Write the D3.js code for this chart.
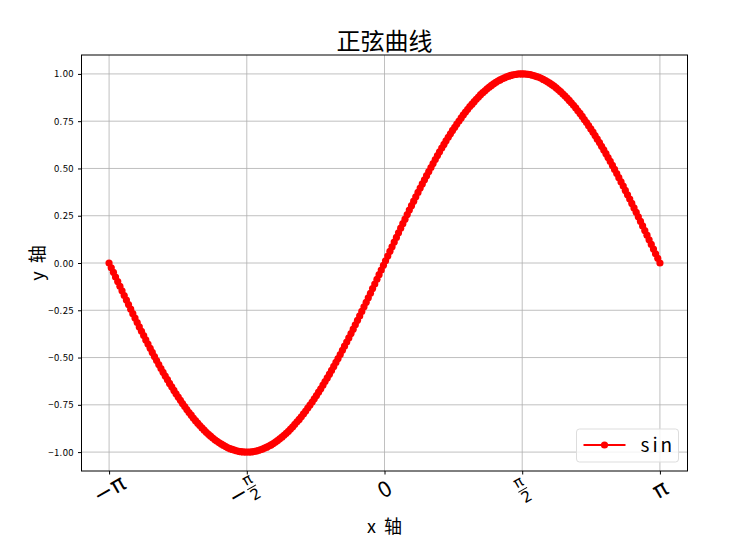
<!DOCTYPE html>
<html>
<head>
<meta charset="UTF-8">
<title>正弦曲线</title>
<script src="https://d3js.org/d3.v7.min.js"></script>
<style>
    body { margin: 0; background: #fff; }
    svg { display: block; }
    .cjk { font-family: "Noto Sans CJK SC", sans-serif; }
    .grid line { stroke: #b0b0b0; stroke-width: 0.8; }
</style>
</head>
<body>
<div id="chart"></div>
<script>
const xValues = [
    -3.142, -3.117, -3.092, -3.068, -3.043, -3.018, -2.994, -2.969, -2.944, -2.920,
    -2.895, -2.871, -2.846, -2.821, -2.797, -2.772, -2.747, -2.723, -2.698, -2.673,
    -2.649, -2.624, -2.600, -2.575, -2.550, -2.526, -2.501, -2.476, -2.452, -2.427,
    -2.402, -2.378, -2.353, -2.328, -2.304, -2.279, -2.255, -2.230, -2.205, -2.181,
    -2.156, -2.131, -2.107, -2.082, -2.057, -2.033, -2.008, -1.984, -1.959, -1.934,
    -1.910, -1.885, -1.860, -1.836, -1.811, -1.786, -1.762, -1.737, -1.712, -1.688,
    -1.663, -1.639, -1.614, -1.589, -1.565, -1.540, -1.515, -1.491, -1.466, -1.441,
    -1.417, -1.392, -1.368, -1.343, -1.318, -1.294, -1.269, -1.244, -1.220, -1.195,
    -1.170, -1.146, -1.121, -1.096, -1.072, -1.047, -1.023, -0.998, -0.973, -0.949,
    -0.924, -0.899, -0.875, -0.850, -0.825, -0.801, -0.776, -0.752, -0.727, -0.702,
    -0.678, -0.653, -0.628, -0.604, -0.579, -0.554, -0.530, -0.505, -0.480, -0.456,
    -0.431, -0.407, -0.382, -0.357, -0.333, -0.308, -0.283, -0.259, -0.234, -0.209,
    -0.185, -0.160, -0.136, -0.111, -0.086, -0.062, -0.037, -0.012,
    0.012, 0.037, 0.062, 0.086, 0.111, 0.136, 0.160, 0.185,
    0.209, 0.234, 0.259, 0.283, 0.308, 0.333, 0.357, 0.382, 0.407, 0.431,
    0.456, 0.480, 0.505, 0.530, 0.554, 0.579, 0.604, 0.628, 0.653, 0.678,
    0.702, 0.727, 0.752, 0.776, 0.801, 0.825, 0.850, 0.875, 0.899, 0.924,
    0.949, 0.973, 0.998, 1.023, 1.047, 1.072, 1.096, 1.121, 1.146, 1.170,
    1.195, 1.220, 1.244, 1.269, 1.294, 1.318, 1.343, 1.368, 1.392, 1.417,
    1.441, 1.466, 1.491, 1.515, 1.540, 1.565, 1.589, 1.614, 1.639, 1.663,
    1.688, 1.712, 1.737, 1.762, 1.786, 1.811, 1.836, 1.860, 1.885, 1.910,
    1.934, 1.959, 1.984, 2.008, 2.033, 2.057, 2.082, 2.107, 2.131, 2.156,
    2.181, 2.205, 2.230, 2.255, 2.279, 2.304, 2.328, 2.353, 2.378, 2.402,
    2.427, 2.452, 2.476, 2.501, 2.526, 2.550, 2.575, 2.600, 2.624, 2.649,
    2.673, 2.698, 2.723, 2.747, 2.772, 2.797, 2.821, 2.846, 2.871, 2.895,
    2.920, 2.944, 2.969, 2.994, 3.018, 3.043, 3.068, 3.092, 3.117, 3.142
];
const yValues = [
    0, -0.025, -0.049, -0.074, -0.098, -0.123, -0.147, -0.172, -0.196, -0.220,
    -0.244, -0.268, -0.291, -0.315, -0.338, -0.361, -0.384, -0.407, -0.429, -0.451,
    -0.473, -0.495, -0.516, -0.537, -0.558, -0.578, -0.598, -0.617, -0.637, -0.655,
    -0.674, -0.692, -0.709, -0.726, -0.743, -0.759, -0.775, -0.791, -0.805, -0.820,
    -0.834, -0.847, -0.860, -0.872, -0.884, -0.895, -0.906, -0.916, -0.926, -0.935,
    -0.943, -0.951, -0.958, -0.965, -0.971, -0.977, -0.982, -0.986, -0.990, -0.993,
    -0.996, -0.998, -0.999, -1.000, -1.000, -1.000, -0.999, -0.997, -0.995, -0.992,
    -0.988, -0.984, -0.979, -0.974, -0.968, -0.962, -0.955, -0.947, -0.939, -0.930,
    -0.921, -0.911, -0.901, -0.890, -0.878, -0.866, -0.853, -0.840, -0.827, -0.813,
    -0.798, -0.783, -0.767, -0.751, -0.735, -0.718, -0.701, -0.683, -0.665, -0.646,
    -0.627, -0.608, -0.588, -0.568, -0.547, -0.526, -0.505, -0.484, -0.462, -0.440,
    -0.418, -0.396, -0.373, -0.350, -0.327, -0.303, -0.280, -0.256, -0.232, -0.208,
    -0.184, -0.160, -0.135, -0.111, -0.086, -0.062, -0.037, -0.012,
    0.012, 0.037, 0.062, 0.086, 0.111, 0.135, 0.160, 0.184,
    0.208, 0.232, 0.256, 0.280, 0.303, 0.327, 0.350, 0.373, 0.396, 0.418,
    0.440, 0.462, 0.484, 0.505, 0.526, 0.547, 0.568, 0.588, 0.608, 0.627,
    0.646, 0.665, 0.683, 0.701, 0.718, 0.735, 0.751, 0.767, 0.783, 0.798,
    0.813, 0.827, 0.840, 0.853, 0.866, 0.878, 0.890, 0.901, 0.911, 0.921,
    0.930, 0.939, 0.947, 0.955, 0.962, 0.968, 0.974, 0.979, 0.984, 0.988,
    0.992, 0.995, 0.997, 0.999, 1.000, 1.000, 1.000, 0.999, 0.998, 0.996,
    0.993, 0.990, 0.986, 0.982, 0.977, 0.971, 0.965, 0.958, 0.951, 0.943,
    0.935, 0.926, 0.916, 0.906, 0.895, 0.884, 0.872, 0.860, 0.847, 0.834,
    0.820, 0.805, 0.791, 0.775, 0.759, 0.743, 0.726, 0.709, 0.692, 0.674,
    0.655, 0.637, 0.617, 0.598, 0.578, 0.558, 0.537, 0.516, 0.495, 0.473,
    0.451, 0.429, 0.407, 0.384, 0.361, 0.338, 0.315, 0.291, 0.268, 0.244,
    0.220, 0.196, 0.172, 0.147, 0.123, 0.098, 0.074, 0.049, 0.025, 0
];

const xTicks = [-Math.PI, -Math.PI / 2, 0, Math.PI / 2, Math.PI];
const xTickLabels = ["-π", "-π/2", "0", "π/2", "π"];
const yTicks = [-1, -0.75, -0.5, -0.25, 0, 0.25, 0.5, 0.75, 1];
const seriesName = "sin";
const titleText = "正弦曲线";
const xLabel = "x 轴";
const yLabel = "y 轴";

const width = 740, height = 539;
const margin = {top: 55, right: 52.5, bottom: 68, left: 81.5};

const svg = d3.select("#chart").append("svg")
    .attr("width", width)
    .attr("height", height);

// matplotlib style 5% padding around the data
const xExt = d3.extent(xValues), yExt = d3.extent(yValues);
const xPad = (xExt[1] - xExt[0]) * 0.05, yPad = (yExt[1] - yExt[0]) * 0.05;

const x = d3.scaleLinear()
    .domain([xExt[0] - xPad, xExt[1] + xPad])
    .range([margin.left, width - margin.right]);
const y = d3.scaleLinear()
    .domain([yExt[0] - yPad, yExt[1] + yPad])
    .range([height - margin.bottom, margin.top]);

const plotBottom = height - margin.bottom;

// grid
const grid = svg.append("g").attr("class", "grid");
grid.selectAll("line.gx").data(xTicks).join("line")
    .attr("x1", d => x(d)).attr("x2", d => x(d))
    .attr("y1", margin.top).attr("y2", plotBottom);
grid.selectAll("line.gy").data(yTicks).join("line")
    .attr("class", "gy")
    .attr("x1", margin.left).attr("x2", width - margin.right)
    .attr("y1", d => y(d)).attr("y2", d => y(d));

// y axis
const yAxis = svg.append("g")
    .attr("transform", `translate(${margin.left},0)`)
    .call(d3.axisLeft(y).tickValues(yTicks).tickFormat(d3.format(".2f")).tickSize(3.5).tickPadding(4));
yAxis.select(".domain").remove();
yAxis.selectAll("text")
    .attr("class", "cjk")
    .style("font-size", "9.5px")
    .style("letter-spacing", "0.4px")
    .attr("fill", "#000")
    .text(d => d3.format(".2f")(d).replace("-", "−"));

// x axis ticks
const xAxis = svg.append("g")
    .attr("transform", `translate(0,${plotBottom})`)
    .call(d3.axisBottom(x).tickValues(xTicks).tickFormat("").tickSize(3.5));
xAxis.select(".domain").remove();

// x tick labels, rotated like the original
const lab = svg.append("g").selectAll("g").data(xTicks).join("g")
    .attr("transform", d => `translate(${x(d)},${plotBottom + 18}) rotate(-30)`)
    .style("font-family", "DejaVu Sans, sans-serif");

lab.each(function(d, i) {
    const g = d3.select(this);
    const s = xTickLabels[i];
    if (s.includes("/")) {
        const neg = s.startsWith("-");
        const off = neg ? 5 : 0;
        g.append("text").attr("x", off).attr("y", -3).attr("text-anchor", "middle")
            .style("font-size", "15px").text("π");
        g.append("line").attr("x1", off - 5).attr("x2", off + 5)
            .attr("y1", 1).attr("y2", 1).attr("stroke", "#000").attr("stroke-width", 1);
        g.append("text").attr("x", off).attr("y", 14).attr("text-anchor", "middle")
            .style("font-size", "15px").text("2");
        if (neg) {
            g.append("text").attr("x", off - 6).attr("y", 8).attr("text-anchor", "end")
                .style("font-size", "22px").text("−");
        }
    } else if (s === "0") {
        g.append("text").attr("class", "cjk").attr("text-anchor", "middle").attr("y", 8)
            .style("font-size", "22px").text("0");
    } else {
        const t = g.append("text").attr("text-anchor", "middle").attr("y", 8)
            .style("font-size", "23px");
        if (s.startsWith("-")) t.append("tspan").text("−");
        t.append("tspan").text("π");
    }
});

// the curve
const line = d3.line().x((d, i) => x(xValues[i])).y(d => y(d));
svg.append("path")
    .datum(yValues)
    .attr("fill", "none")
    .attr("stroke", "red")
    .attr("stroke-width", 2)
    .attr("d", line);

svg.append("g").selectAll("circle").data(yValues).join("circle")
    .attr("cx", (d, i) => x(xValues[i]))
    .attr("cy", d => y(d))
    .attr("r", 3.6)
    .attr("fill", "red");

// frame
svg.append("rect")
    .attr("x", margin.left).attr("y", margin.top)
    .attr("width", width - margin.left - margin.right)
    .attr("height", plotBottom - margin.top)
    .attr("fill", "none").attr("stroke", "#000").attr("stroke-width", 1);

// legend
const lg = svg.append("g").attr("transform", `translate(${width - margin.right - 111},${plotBottom - 42})`);
lg.append("rect")
    .attr("width", 102).attr("height", 33).attr("rx", 3)
    .attr("fill", "#fff").attr("fill-opacity", 0.8)
    .attr("stroke", "#ddd").attr("stroke-width", 1);
lg.append("line").attr("x1", 7).attr("x2", 49).attr("y1", 16).attr("y2", 16)
    .attr("stroke", "red").attr("stroke-width", 2);
lg.append("circle").attr("cx", 28).attr("cy", 16).attr("r", 3.6).attr("fill", "red");
lg.append("text").attr("class", "cjk")
    .attr("x", 64).attr("y", 23)
    .style("font-size", "19px").style("letter-spacing", "3px")
    .text(seriesName);

// titles
svg.append("text").attr("class", "cjk")
    .attr("x", (margin.left + width - margin.right) / 2).attr("y", 50)
    .attr("text-anchor", "middle").style("font-size", "24px")
    .text(titleText);

svg.append("text").attr("class", "cjk")
    .attr("x", (margin.left + width - margin.right) / 2).attr("y", 533)
    .attr("text-anchor", "middle").style("font-size", "18px")
    .attr("xml:space", "preserve").style("white-space", "pre")
    .text(xLabel.replace(" ", "  "));

svg.append("text").attr("class", "cjk")
    .attr("transform", `translate(44,${(margin.top + plotBottom) / 2}) rotate(-90)`)
    .attr("text-anchor", "middle").style("font-size", "18px")
    .attr("xml:space", "preserve").style("white-space", "pre")
    .text(yLabel.replace(" ", "  "));
</script>
</body>
</html>
